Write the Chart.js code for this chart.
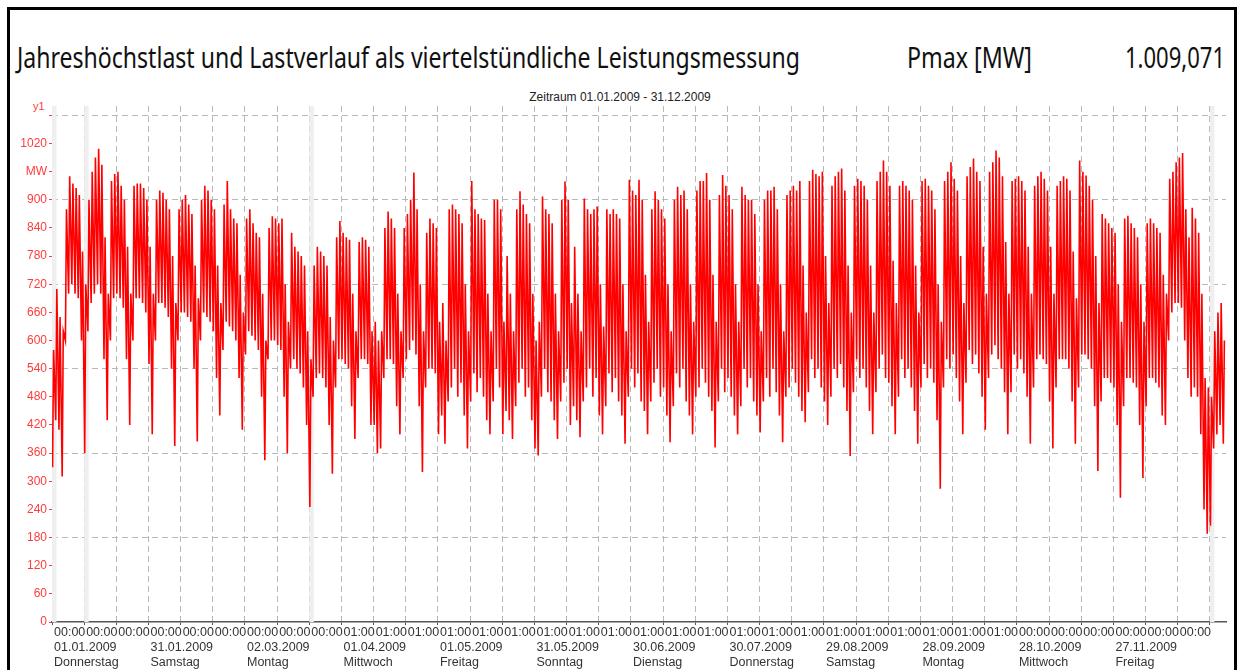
<!DOCTYPE html>
<html>
<head>
<meta charset="utf-8">
<script src="https://cdn.jsdelivr.net/npm/chart.js@4.4.1/dist/chart.umd.min.js"></script>
<style>
body { margin: 0; width: 1237px; height: 670px; overflow: hidden; background: #fff; position: relative; }
#frame { position: absolute; left: 7px; top: 7px; width: 1224px; height: 700px; border: 3px solid #000; }
.head { position: absolute; font-family: 'Noto Sans', sans-serif; font-size: 29px; line-height: 29px; color: #111; white-space: nowrap; transform-origin: 0 0; }
#sub { position: absolute; left: 470px; width: 300px; top: 90px; text-align: center; font: 12px/14px 'Liberation Sans', Arial, sans-serif; color: #222; }
#y1 { position: absolute; left: 33px; top: 100px; font: 11px/13px 'Liberation Sans', Arial, sans-serif; color: #ff3b3b; }
#c { position: absolute; left: 0; top: 0; }
</style>
</head>
<body>
<div id="frame"></div>
<div class="head" id="title" style="left:17px; top:42px;">Jahreshöchstlast und Lastverlauf als viertelstündliche Leistungsmessung</div>
<div class="head" id="pmax" style="left:907px; top:42px;">Pmax [MW]</div>
<div class="head" id="pval" style="left:1125px; top:42px;">1.009,071</div>
<div id="sub">Zeitraum 01.01.2009 - 31.12.2009</div>
<div id="y1">y1</div>
<canvas id="c" width="1237" height="670"></canvas>
<script>
// daily peak load (MW), 01.01.2009 - 31.12.2009
var dayHigh = [
    // Jan
    580, 710, 650, 620, 880, 950, 935, 925, 910, 790, 720, 900, 960, 990, 1009, 975, 820, 700,
    940, 955, 960, 930, 900, 800, 700, 930, 935, 935, 925, 900, 800,
    // Feb
    700, 900, 920, 915, 900, 880, 780, 680, 880, 900, 910, 890, 870, 760, 690,
    900, 930, 920, 900, 880, 760, 680, 890, 940, 880, 860, 850, 740,
    // Mar
    660, 860, 880, 850, 830, 820, 700, 600, 840, 865, 860, 850, 860, 720, 640,
    830, 800, 790, 780, 760, 620, 560, 760, 800, 790, 780, 760, 650, 600, 820, 855,
    // Apr
    830, 820, 815, 700, 620, 810, 820, 815, 800, 620, 640, 600, 620, 840, 875, 860, 840, 700, 620,
    840, 870, 900, 958, 880, 720, 620, 830, 860, 850, 840,
    // May
    640, 680, 600, 880, 890, 880, 870, 850, 720, 620, 940, 880, 870, 860, 857, 700, 620,
    900, 900, 880, 640, 780, 700, 620, 880, 918, 890, 870, 850, 700, 600,
    // Jun
    640, 907, 880, 870, 850, 700, 620, 900, 939, 900, 680, 800, 700, 620,
    903, 880, 870, 880, 886, 720, 630, 880, 870, 880, 870, 860, 720, 620, 943, 920,
    // Jul
    910, 943, 900, 740, 640, 880, 918, 900, 880, 860, 720, 620, 900, 928, 910, 920, 880, 720, 640,
    920, 940, 940, 957, 900, 740, 640, 910, 953, 930, 910, 880,
    // Aug
    720, 640, 928, 910, 900, 900, 870, 720, 620, 900, 920, 920, 928, 880, 720, 620,
    910, 920, 930, 920, 940, 760, 660, 940, 964, 955, 950, 960, 780, 680, 930,
    // Sep
    950, 960, 967, 920, 760, 660, 930, 945, 940, 930, 900, 760, 660,
    940, 960, 984, 960, 930, 770, 680, 930, 940, 930, 920, 900, 760, 660, 940, 945, 930,
    // Oct
    920, 880, 720, 640, 940, 960, 980, 945, 920, 780, 680, 950, 970, 988, 960, 940, 800, 700,
    960, 980, 1005, 990, 950, 810, 700, 940, 945, 950, 940, 920, 800,
    // Nov
    700, 930, 950, 960, 945, 920, 800, 700, 930, 940, 950, 945, 920, 790, 690,
    984, 960, 952, 930, 900, 780, 680, 870, 860, 850, 840, 830, 720, 640, 860,
    // Dec
    866, 850, 840, 820, 720, 640, 850, 860, 850, 840, 830, 740, 700,
    945, 960, 980, 990, 1000, 880, 820, 883, 860, 830, 700, 520, 500, 480, 620, 660, 680, 600
];

// daily night minimum (MW)
var dayLow = [
    // Jan
    330, 430, 410, 310, 600, 700, 720, 700, 690, 600, 360, 620, 680, 700, 720, 700, 560, 430,
    600, 690, 700, 690, 670, 560, 420, 600, 690, 690, 680, 660, 550,
    // Feb
    400, 600, 680, 680, 670, 650, 540, 375, 600, 660, 660, 650, 640, 540, 385,
    600, 660, 650, 640, 620, 520, 440, 580, 640, 630, 620, 600, 520,
    // Mar
    410, 570, 620, 610, 600, 580, 480, 345, 560, 600, 600, 590, 580, 480, 360,
    540, 560, 540, 530, 500, 420, 245, 480, 520, 530, 520, 500, 420, 316, 500, 560,
    // Apr
    560, 550, 540, 460, 390, 520, 560, 560, 550, 420, 420, 360, 370, 520, 560, 560, 550, 460, 400,
    520, 560, 580, 600, 570, 460, 320, 500, 540, 540, 530,
    // May
    400, 440, 380, 470, 500, 540, 480, 510, 440, 370, 470, 530, 490, 520, 480, 430, 400,
    470, 540, 500, 400, 450, 430, 390, 460, 510, 540, 480, 500, 430, 370,
    // Jun
    355, 480, 540, 490, 470, 430, 390, 470, 510, 540, 420, 460, 430, 394,
    470, 500, 540, 480, 520, 440, 400, 460, 530, 490, 520, 470, 440, 380, 480, 540,
    // Jul
    500, 530, 470, 450, 400, 470, 510, 540, 480, 500, 440, 383, 460, 530, 500, 540, 470, 440, 400,
    480, 500, 540, 510, 480, 450, 372, 470, 540, 490, 520, 480,
    // Aug
    440, 400, 460, 540, 500, 520, 470, 440, 404, 470, 520, 480, 540, 490, 440, 383,
    480, 500, 540, 510, 480, 450, 426, 490, 560, 520, 540, 500, 470, 420, 480,
    // Sep
    540, 520, 550, 500, 450, 354, 490, 560, 520, 540, 500, 450, 400,
    490, 540, 570, 520, 510, 460, 400, 480, 560, 520, 540, 500, 450, 380, 500, 550, 520,
    // Oct
    540, 510, 430, 284, 500, 560, 540, 570, 520, 470, 400, 510, 580, 550, 570, 530, 480, 410,
    520, 570, 590, 560, 540, 490, 400, 490, 570, 540, 560, 530, 480,
    // Nov
    380, 500, 560, 570, 560, 550, 470, 370, 500, 560, 560, 560, 540, 470, 380,
    500, 570, 570, 560, 540, 460, 322, 470, 520, 520, 510, 500, 420, 265, 460,
    // Dec
    520, 520, 510, 500, 420, 307, 460, 520, 520, 510, 500, 440, 420,
    600, 660, 680, 680, 670, 600, 520, 480, 500, 480, 400, 240, 188, 205, 370, 400, 420, 380
];

var lowHour = 4;    // time of the night minimum
var peakHour = 12;  // time of the daily peak

// x axis: one tick every 10 days, dates every 30 days
var tickStepDays = 10;
var tickTimes = ['00:00', '00:00', '00:00', '00:00', '00:00', '00:00', '00:00', '00:00', '00:00',
    '01:00', '01:00', '01:00', '01:00', '01:00', '01:00', '01:00', '01:00', '01:00', '01:00', '01:00',
    '01:00', '01:00', '01:00', '01:00', '01:00', '01:00', '01:00', '01:00', '01:00', '01:00',
    '00:00', '00:00', '00:00', '00:00', '00:00', '00:00', ''];
var dateLabels = ['01.01.2009', '31.01.2009', '02.03.2009', '01.04.2009', '01.05.2009', '31.05.2009',
    '30.06.2009', '30.07.2009', '29.08.2009', '28.09.2009', '28.10.2009', '27.11.2009'];
var weekdayLabels = ['Donnerstag', 'Samstag', 'Montag', 'Mittwoch', 'Freitag', 'Sonntag',
    'Dienstag', 'Donnerstag', 'Samstag', 'Montag', 'Mittwoch', 'Freitag'];

// y axis
var yTickValues = [0, 60, 120, 180, 240, 300, 360, 420, 480, 540, 600, 660, 720, 780, 840, 900, 960, 1020, 1080];
var yTickLabels = ['0', '60', '120', '180', '240', '300', '360', '420', '480', '540', '600', '660', '720',
    '780', '840', '900', 'MW', '1020', ''];
var yGridValues = [180, 360, 540, 720, 900, 1080];

// light grey day markers
var bandDays = [0, 10, 80, 360];

// fit the heading texts to their widths
function fitText(id, width) {
    var el = document.getElementById(id);
    var w = el.getBoundingClientRect().width;
    el.style.transform = 'scaleX(' + (width / w) + ')';
}
fitText('title', 783);
fitText('pmax', 125);
fitText('pval', 100);

var points = [];
for (var d = 0; d < dayHigh.length; d++) {
    points.push({ x: d + lowHour / 24, y: dayLow[d] });
    points.push({ x: d + peakHour / 24, y: dayHigh[d] });
}

var red = '#ff3b3b';

var bandPlugin = {
    id: 'bands',
    beforeDatasetsDraw: function (chart) {
        var ctx = chart.ctx, a = chart.chartArea, x = chart.scales.x;
        ctx.save();
        ctx.fillStyle = '#efefef';
        bandDays.forEach(function (d) {
            var x0 = x.getPixelForValue(d);
            var x1 = x.getPixelForValue(d + 1.4);
            ctx.fillRect(x0, a.top, x1 - x0, a.bottom - a.top);
        });
        ctx.restore();
    }
};

var ctx = document.getElementById('c').getContext('2d');
var chart = new Chart(ctx, {
    type: 'line',
    data: {
        datasets: [{
            label: 'Last',
            data: points,
            borderColor: '#ff0000',
            borderWidth: 1.6,
            pointRadius: 0,
            tension: 0,
            fill: false
        }]
    },
    options: {
        responsive: false,
        animation: false,
        devicePixelRatio: 1,
        layout: { padding: { left: 0, top: 106, right: 11, bottom: 0 } },
        plugins: { legend: { display: false }, tooltip: { enabled: false } },
        scales: {
            x: {
                type: 'linear',
                min: 0,
                max: 365,
                afterBuildTicks: function (s) {
                    s.ticks = tickTimes.map(function (t, i) { return { value: i * tickStepDays }; });
                },
                afterFit: function (s) { s.height = 48; },
                grid: { color: '#b8b8b8', lineWidth: 1, tickLength: 3, tickColor: '#555' },
                border: { display: true, color: '#555', width: 1.5, dash: [6, 4] },
                ticks: {
                    autoSkip: false,
                    maxRotation: 0,
                    minRotation: 0,
                    align: 'start',
                    padding: 0,
                    labelOffset: 2,
                    color: '#333',
                    font: { family: 'Liberation Sans', size: 12.5, lineHeight: 1.2 },
                    callback: function (v, i) {
                        if (i % 3 === 0 && dateLabels[i / 3]) {
                            return [tickTimes[i], dateLabels[i / 3], weekdayLabels[i / 3]];
                        }
                        return tickTimes[i];
                    }
                }
            },
            y: {
                min: 0,
                max: 1100,
                afterBuildTicks: function (s) {
                    s.ticks = yTickValues.map(function (v) { return { value: v }; });
                },
                afterFit: function (s) { s.width = 52; },
                grid: {
                    color: function (c) {
                        return c.tick && yGridValues.indexOf(c.tick.value) >= 0 ? '#b8b8b8' : 'rgba(0,0,0,0)';
                    },
                    lineWidth: 1,
                    tickLength: 3,
                    tickColor: red
                },
                border: { display: false, dash: [6, 4] },
                ticks: {
                    padding: 2,
                    color: red,
                    font: { family: 'Liberation Sans', size: 12 },
                    callback: function (v, i) { return yTickLabels[i]; }
                }
            }
        }
    },
    plugins: [bandPlugin]
});
</script>
</body>
</html>
